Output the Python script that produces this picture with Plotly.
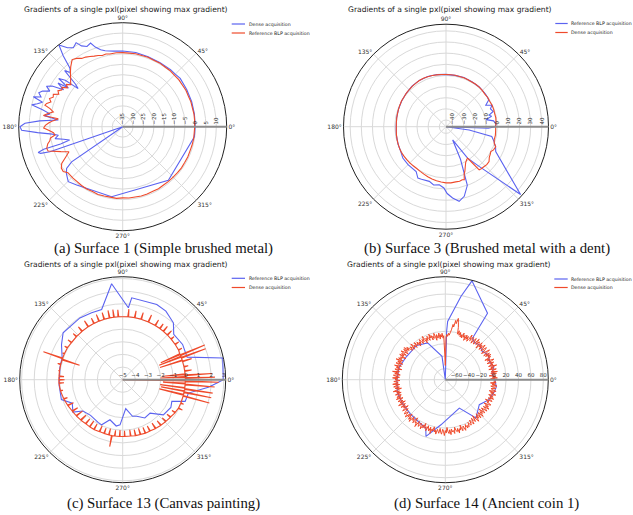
import plotly.graph_objects as go

W, H = 633, 515

BLUE = "#5b63f0"
RED = "#ef4a2b"

TITLE = "Gradients of a single pxl(pixel showing max gradient)"

# ---------------- Surface 1 (simple brushed metal) ----------------
s1_dense_theta = [0, 10, 20, 30, 40, 45, 50, 60, 70, 80, 90, 97, 103, 106, 109, 111, 114, 117,
                  119, 122, 125, 128, 130, 132, 134, 136, 138, 139.5, 141, 143, 144.5, 146, 148,
                  150, 152, 154, 156, 158, 160, 161.5, 163, 165, 166.5, 168, 170, 172, 174, 176,
                  178, 180, 182, 184, 186, 187.5, 190, 192, 194, 195.5, 196, 197, 198, 199, 200,
                  214.5, 216.6, 220, 225.3, 231.7, 261, 310.5, 352, 360]
s1_dense_r = [-0.2, 0.0, 0.3, 0.6, 1.1, 0.7, 0.8, 0.6, 0.8, 1.2, 1.4, 1.6, 2.5, 3.5, 5.5, 8.1, 7.2, 8.6,
              11.2, 9.8, 11.3, 14.8, 9.5, 3.0, 1.2, 3.8, -4.5, -6.8, 0.5, 3.5, -3.0, 2.5, -1.5,
              4.2, 6.5, 4.0, 7.2, 8.5, 6.8, 10.3, 5.3, 7.5, 10.0, 4.4, 0.5, 3.0, -3.9, 5.0,
              12.0, 14.4, 13.6, 6.0, -1.0, -3.8, -2.0, -6.0, -8.7, -4.0, 4.5, 7.5, 6.5, 2.0, -35,
              -5.2, -1.4, 0.3, 2.2, 0.7, -0.9, -1.2, -0.2, -0.2]

s1_ref_theta = [0, 5, 10, 15, 20, 25, 30, 35, 40, 45, 50, 55, 60, 65, 70, 75, 80, 85, 90, 95, 100,
                103, 106, 109, 112, 115, 118, 121, 124, 127, 129, 131, 133, 135, 137, 139, 141, 143,
                145, 147, 149, 151, 153, 155, 157, 159, 161, 163, 164.5, 166, 168, 170, 172, 173,
                175, 177, 179, 181, 183, 185, 187, 189, 191, 193, 196, 198, 202, 205, 208, 211,
                214, 217, 220, 226, 230, 235, 240, 245, 250, 255, 260, 265, 270, 275, 280, 285,
                290, 295, 300, 305, 310, 315, 320, 325, 330, 335, 340, 345, 350, 355, 360]
s1_ref_r = [-0.4, -0.3, -0.2, -0.3, -0.1, -0.2, 0.1, 0.0, 0.2, 0.1, 0.3, 0.2, 0.4, 0.3, 0.5, 0.4,
            0.6, 0.5, 0.6, 0.7, 0.5, 0.9, 0.6, 1.2, 1.6, 2.2, 2.9, 3.3, 4.6, 5.4, 4.2, 3.1, 1.8,
            0.5, -0.8, -1.8, -2.9, -1.2, -2.4, -0.3, -0.8, 0.6, -0.5, 1.8, 1.3, 2.7, 1.5, 3.2,
            3.8, 1.0, -0.9, 1.5, 3.5, -3.8, -1.5, 0.5, 2.2, 3.0, 0.4, -1.6, -2.2, 0.2, 0.7, 2.0,
            3.0, 2.7, -3.0, -6.5, -4.0, -0.8, 0.6, 0.8, -0.6, -0.6, -0.7, -0.5, -0.4, -0.6, -0.3,
            -0.5, -0.6, -0.4, -0.8, -0.6, -0.7, -0.5, -0.6, -0.7, -0.6, -0.8, -0.7, -0.7, -0.6,
            -0.5, -0.6, -0.5, -0.6, -0.5, -0.4, -0.5, -0.4]

# ---------------- Surface 3 (brushed metal with a dent) ----------------
s3_ref_theta = [0, 3, 7, 10, 13, 15, 18, 22, 25, 28.5, 32, 36, 40, 50, 60, 70, 80, 90, 100, 110,
                120, 130, 140, 150, 160, 170, 180, 190, 200, 210, 216, 225, 236.3, 241.3, 245, 253,
                258, 263.4, 268, 271, 275.3, 280, 284.7, 290, 294, 296.7, 304.5, 309.8, 317.7,
                333.4, 338, 343, 348, 352, 355, 358, 360]
s3_ref_r = [-2.0, -1.0, -3.0, -9.5, -4.0, -5.9, -1.5, -3.0, -0.5, -5.4, -0.8, -0.3, 0.0, 0.5, 0.6,
            1.0, 0.8, 1.0, 1.5, 2.0, 2.0, 1.5, 0.6, 0.0, -0.6, -1.0, -1.3, -0.8, -0.2, 0.5, 1.9,
            2.2, 2.3, 6.6, 6.0, 5.3, 7.5, 6.4, 9.0, 14.0, 18.2, 22.0, 18.6, 10.0, -14.0, -32.7,
            -11.8, 0.4, 44.5, 3.9, 2.0, -1.0, -4.0, -25.0, -46.0, -8.0, -2.0]

s3_dense_theta = [0, 5, 10, 15, 20, 25, 30, 35, 40, 45, 50, 55, 60, 65, 70, 75, 80, 85, 90, 95,
                  100, 105, 110, 115, 120, 125, 130, 135, 140, 145, 150, 155, 160, 165, 170, 175,
                  180, 185, 190, 195, 200, 205, 210, 215, 220, 225, 230, 235, 240, 245, 250, 255,
                  260, 265, 270, 275, 280, 284, 287, 289, 291, 293, 296, 299, 302, 304.5, 306,
                  307.6, 310, 313.8, 317, 321, 325, 328, 331, 334, 338, 341, 345, 350, 355, 360]
s3_dense_r = [-1.4, -1.0, -0.6, -0.8, -0.5, -0.4, -0.6, -0.3, -0.5, 0.0, 0.3, 0.5, 0.4, 0.6, 0.8,
              0.7, 0.9, 0.8, 0.8, 1.0, 1.2, 1.5, 1.8, 2.0, 1.8, 1.5, 1.2, 0.9, 0.6, 0.2, 0.1, -0.3,
              -0.6, -0.9, -1.1, -1.3, -1.4, -1.2, -0.9, -0.6, -0.3, 0.0, 0.2, 0.1, 0.0, -0.1, -0.2,
              -0.2, 0.3, 1.0, 1.8, 2.6, 3.3, 3.8, 4.4, 4.6, 4.3, 4.5, 3.8, 4.4, -0.5, -2.6, -6.5,
              -9.5, -11.0, -11.8, -6.0, 2.8, 3.2, 3.5, 4.0, 3.7, 1.5, 0.8, 0.0, 1.5, 2.1, -0.2,
              -1.2, -1.0, -1.3, -1.4]

# ---------------- Surface 13 (canvas painting) ----------------
s13_ref_theta = [0, 12.2, 19.3, 30.5, 41.6, 48.3, 57.8, 65.6, 83.7, 85.5, 96.6, 106.7, 114.9,
                 124.7, 141.8, 150.2, 160, 169.4, 185, 198, 205, 213, 218.2, 228, 240, 245, 252.4,
                 262, 266.6, 276, 285, 291, 300, 309.4, 319.2, 330, 336.2, 340.9, 348.5, 355, 358,
                 360]
s13_ref_r = [2.95, 3.1, 0.4, 0.5, 0.4, 1.03, 1.41, 1.53, 1.52, 0.71, 2.64, 0.8, 0.84, 0.95, 1.0,
             0.58, 0.1, 0.06, 0.05, 0.1, -0.6, -0.3, -1.0, -1.2, -1.1, -1.06, -1.67, -1.3, -1.42,
             -2.7, -2.0, -1.9, -1.5, -1.58, -0.75, -0.6, -0.75, 0.23, 0.31, 1.8, 2.47, 2.95]

# dense trace: a baseline with narrow teeth (angle, baseline value, tip value)
s13_dense_tooth_theta = [1.5, 2.5, 4.0, 5.0, 8.0, 12.0, 17.0, 18.0, 20.5, 21.5, 23.0, 24.0, 28, 34,
                         40, 45, 50, 54, 59, 66, 73, 79, 85, 94, 98, 102, 107, 112, 117, 123, 130,
                         137, 144, 150, 156, 160.5, 161.5, 166, 172, 177, 180, 183, 190, 198, 205,
                         212, 218, 224, 230, 235, 240, 246, 251, 256, 259, 262, 267, 272, 278, 283,
                         288, 293, 298, 304, 310, 316, 322, 328, 333, 338, 345.0, 346.0, 348.5,
                         349.5, 351.5, 352.5, 355.5, 356.5, 358.5, 359.3]
s13_dense_tooth_base = [-0.05, -0.05, -0.05, -0.05, -0.05, -0.05, -0.05, -0.05, -0.05, -0.05,
                        -0.05, -0.05, 0.0, 0.0, 0.0, 0.0, 0.0, 0.0, 0.0, 0.0, 0.0, 0.0, 0.0, 0.0,
                        0.0, 0.0, 0.0, 0.0, 0.0, 0.0, 0.0, 0.0, 0.0, 0.05, 0.05, 0.05, 0.05, 0.05,
                        0.05, 0.05, 0.05, 0.05, 0.0, -0.1, -0.2, -0.3, -0.35, -0.4, -0.45, -0.45,
                        -0.45, -0.5, -0.5, -0.5, -0.5, -0.5, -0.5, -0.5, -0.5, -0.45, -0.45, -0.4,
                        -0.4, -0.35, -0.3, -0.25, -0.2, -0.1, -0.05, -0.05, -0.05, -0.05, -0.05,
                        -0.05, -0.05, -0.05, -0.05, -0.05, -0.05, -0.05]
s13_dense_tooth_tip = [2.3, -2.0, 2.1, -1.8, 0.5, 0.3, 0.7, -1.9, 2.0, -1.9, 2.05, -1.7, 0.3, 0.35,
                       0.3, 0.45, 0.5, 0.45, 0.5, 0.6, 0.55, 0.55, 0.6, 0.55, 0.6, 0.6, 0.55, 0.55,
                       0.45, 0.55, 0.45, 0.35, 0.35, 0.3, 0.2, 1.65, -1.4, 0.3, 0.1, -0.35, -0.4,
                       -0.35, -0.2, -0.4, -0.7, -0.8, -0.95, -0.95, -0.95, -1.0, -0.95, -1.0,
                       -0.95, -1.0, 0.4, -0.95, -1.0, -0.95, -1.0, -0.95, -0.95, -0.9, -0.85,
                       -0.85, -0.75, -0.65, -0.55, -0.4, 0.3, 0.2, 2.1, -2.0, 2.15, -1.9, 2.2,
                       -2.0, 2.3, -1.8, 2.6, -5.0]

# ---------------- Surface 14 (ancient coin 1) ----------------
s14_ref_theta = [0, 8, 15, 22, 30, 38, 45, 52, 56.8, 57.6, 74.9, 79.3, 87.7, 88.4, 89.5, 98, 115.7,
                 130, 150, 165, 180, 195, 210, 225.6, 240, 248, 251.2, 264.5, 296.3, 308.7, 323.7,
                 335, 345, 352, 360]
s14_ref_r = [2, -2, 3, -1, 2, -3, 1, -2, 2.4, 49, 87, 58.8, 16, 0, -78, -40, -12.3, -6, -5, -1, 0,
             2, 1, 1, 3, 6, 18.6, -5, -27, 1, -10, -1, 3, 5, 2]

# dense acquisition sampled every degree, 0..359 (then closed at 360)
s14_dense_theta = list(range(0, 361))
s14_dense_r = [
    3, -5, 6, -2, 4, -7, 1, 5, -4, 7, -3, 0, 6, -6, 2, -2, 8, -5, 3, -1,
    5, -6, 2, 7, -4, 1, -7, 4, 0, 6, -3, 5, -5, 2, 8, -2, -6, 3, 6, -4,
    1, 7, -5, 3, -2, 6, -7, 2, 4, -3, 7, -1, -5, 5, 0, -6, 4, 2, -4, 6,
    -3, -7, 1, -5, 2, -8, 0, -4, 3, -6, -1, -5, 2, -3, 4, -2, 9, 16, 23, 14,
    19, 8, 12, 3, -2, -6, -3, -8, -5, -9, -55, -40, -7, -11, -3, -9, -5, -12, -2, -8,
    -10, -4, -13, -6, -1, -9, -5, -11, -3, -7, 0, -10, -6, -2, -9, -4, -12, -5, 1, -8,
    -3, -10, -6, -1, -8, -4, -11, -2, -7, -5, 0, -9, -3, -6, 2, -8, -4, -1, -7, -3,
    3, -3, 6, -2, 5, -5, 2, 7, -4, 4, -1, 6, -6, 3, 0, 5, -3, 8, -2, 4,
    -5, 6, 1, -4, 7, -1, 3, -6, 5, 0, -3, 8, -2, 4, -5, 6, 2, -4, 7, -1,
    3, -5, 5, 0, -2, 7, -4, 2, 6, -3, 4, -6, 1, 8, -2, 3, -4, 6, 0, -3,
    5, -1, 7, -4, 2, 6, -2, 4, -5, 8, 1, -3, 6, -1, 3, -5, 7, 2, -2, 5,
    8, 1, 6, 10, 2, 7, -1, 9, 4, 11, 0, 6, 3, 9, -2, 7, 5, 12, 1, 6,
    9, 2, 5, 11, 3, 8, -1, 7, 4, 10, 1, 6, 9, 2, 12, 4, 7, 0, 8, 5,
    11, 3, 6, 9, 1, 7, 10, 2, 5, 12, 4, 8, -1, 6, 9, 3, 11, 2, 7, 5,
    10, 0, 6, 8, 3, 11, 4, 7, -1, 9, 5, 2, 10, 6, 1, 8, 4, 7, 0, 5,
    6, -2, 4, 7, -3, 2, 5, -5, 3, 8, -1, 4, -4, 6, 1, -3, 7, -2, 3, -6,
    5, 0, -4, 6, 2, -3, 7, -1, 4, -5, 3, 6, -2, 1, -6, 5, 2, -3, 6, -1,
    4, -4, 2, 7, -2, 3, -5, 6, 0, -3, 5, 1, -4, 6, -2, 3, -5, 4, 1, 2,
    3,
]


def tooth_path(thetas, bases, tips, half_width=0.4):
    """Expand (angle, baseline, tip) teeth into a closed polar polyline."""
    th, rr = [], []
    for t, b, p in zip(thetas, bases, tips):
        th += [t - half_width, t, t + half_width]
        rr += [b, p, b]
    th.append(thetas[0] - half_width + 360)
    rr.append(bases[0])
    return th, rr


s13_dense_theta, s13_dense_r = tooth_path(s13_dense_tooth_theta, s13_dense_tooth_base,
                                          s13_dense_tooth_tip)

# ---------------- figure ----------------
fig = go.Figure()


def line_trace(theta, r, color, name, subplot, width=1.1):
    return go.Scatterpolar(theta=theta, r=r, mode="lines", name=name, subplot=subplot,
                           line=dict(color=color, width=width), showlegend=False,
                           hoverinfo="skip")


fig.add_trace(line_trace(s1_dense_theta, s1_dense_r, BLUE, "Dense acquisition", "polar"))
fig.add_trace(line_trace(s1_ref_theta, s1_ref_r, RED, "Reference BLP acquisition", "polar"))
fig.add_trace(line_trace(s3_ref_theta, s3_ref_r, BLUE, "Reference BLP acquisition", "polar2"))
fig.add_trace(line_trace(s3_dense_theta, s3_dense_r, RED, "Dense acquisition", "polar2"))
fig.add_trace(line_trace(s13_ref_theta, s13_ref_r, BLUE, "Reference BLP acquisition", "polar3"))
fig.add_trace(line_trace(s13_dense_theta, s13_dense_r, RED, "Dense acquisition", "polar3"))
fig.add_trace(line_trace(s14_ref_theta, s14_ref_r, BLUE, "Reference BLP acquisition", "polar4"))
fig.add_trace(line_trace(s14_dense_theta, s14_dense_r, RED, "Dense acquisition", "polar4", 1.0))

ANG_VALS = [0, 45, 90, 135, 180, 225, 270, 315]
ANG_TEXT = ["0°", "45°", "90°", "135°", "180°", "225°", "270°", "315°"]


def polar_cfg(cx, cy, rad, rrange, rticks, tickangle):
    return dict(
        domain=dict(x=[(cx - rad) / W, (cx + rad) / W],
                    y=[1 - (cy + rad) / H, 1 - (cy - rad) / H]),
        bgcolor="white",
        angularaxis=dict(rotation=0, direction="counterclockwise", tickmode="array",
                         tickvals=ANG_VALS, ticktext=ANG_TEXT, ticks="",
                         tickfont=dict(family="DejaVu Sans", size=6, color="#333"),
                         showline=True, linecolor="#222", linewidth=1,
                         gridcolor="#d9d9d9", gridwidth=0.8),
        radialaxis=dict(range=rrange, tickmode="array", tickvals=rticks, angle=0,
                        side="counterclockwise", tickangle=tickangle, ticks="",
                        tickfont=dict(family="DejaVu Sans", size=5.5, color="#333"),
                        showline=True, linecolor="#8c8c8c", linewidth=2,
                        gridcolor="#d9d9d9", gridwidth=0.8),
    )


fig.update_layout(
    width=W, height=H, margin=dict(l=0, r=0, t=0, b=0),
    paper_bgcolor="white", showlegend=False,
    polar=polar_cfg(122.7, 126.7, 104, [-35, 15], list(range(-35, 15, 5)), -90),
    polar2=polar_cfg(446, 126.7, 102.5, [-46, 46], list(range(-40, 50, 10)), -90),
    polar3=polar_cfg(122.7, 379.7, 103, [-5, 3.15], list(range(-5, 4)), 0),
    polar4=polar_cfg(445.3, 379.7, 103, [-78, 88], list(range(-60, 100, 20)), 0),
)


def px(x):
    return x / W


def py(y):
    return 1 - y / H


annotations = []
shapes = []

# titles
for x0, y0 in [(21.7, 9.5), (346, 10), (21.7, 264.3), (345.3, 264.3)]:
    annotations.append(dict(x=px(x0), y=py(y0), xref="paper", yref="paper", text=TITLE,
                            showarrow=False, xanchor="left", yanchor="middle",
                            font=dict(family="DejaVu Sans", size=7.6, color="#222")))

# captions
captions = [("(a) Surface 1 (Simple brushed metal)", 164, 248.3),
            ("(b) Surface 3 (Brushed metal with a dent)", 487, 248.3),
            ("(c) Surface 13 (Canvas painting)", 164, 503.3),
            ("(d) Surface 14 (Ancient coin 1)", 486, 503.3)]
for txt, x0, y0 in captions:
    annotations.append(dict(x=px(x0), y=py(y0), xref="paper", yref="paper", text=txt,
                            showarrow=False, xanchor="center", yanchor="middle",
                            font=dict(family="Liberation Serif", size=14.8, color="#111")))

# legends
legends = [
    (231.7, 245, 247, [(24.0, BLUE, "Dense acquisition"), (33.0, RED, "Reference BLP acquisition")]),
    (555.3, 567.7, 568.8, [(23.5, BLUE, "Reference BLP acquisition"), (32.5, RED, "Dense acquisition")]),
    (231.7, 245, 247, [(278.3, BLUE, "Reference BLP acquisition"), (287.5, RED, "Dense acquisition")]),
    (554.3, 567.7, 568.8, [(279.0, BLUE, "Reference BLP acquisition"), (287.5, RED, "Dense acquisition")]),
]
for xa, xb, xt, items in legends:
    for yy, col, label in items:
        shapes.append(dict(type="line", xref="paper", yref="paper", x0=px(xa), x1=px(xb),
                           y0=py(yy), y1=py(yy), line=dict(color=col, width=1.2)))
        annotations.append(dict(x=px(xt), y=py(yy), xref="paper", yref="paper", text=label,
                                showarrow=False, xanchor="left", yanchor="middle",
                                font=dict(family="DejaVu Sans", size=4.7, color="#222")))

fig.update_layout(annotations=annotations, shapes=shapes)

fig.write_html("out.html")
